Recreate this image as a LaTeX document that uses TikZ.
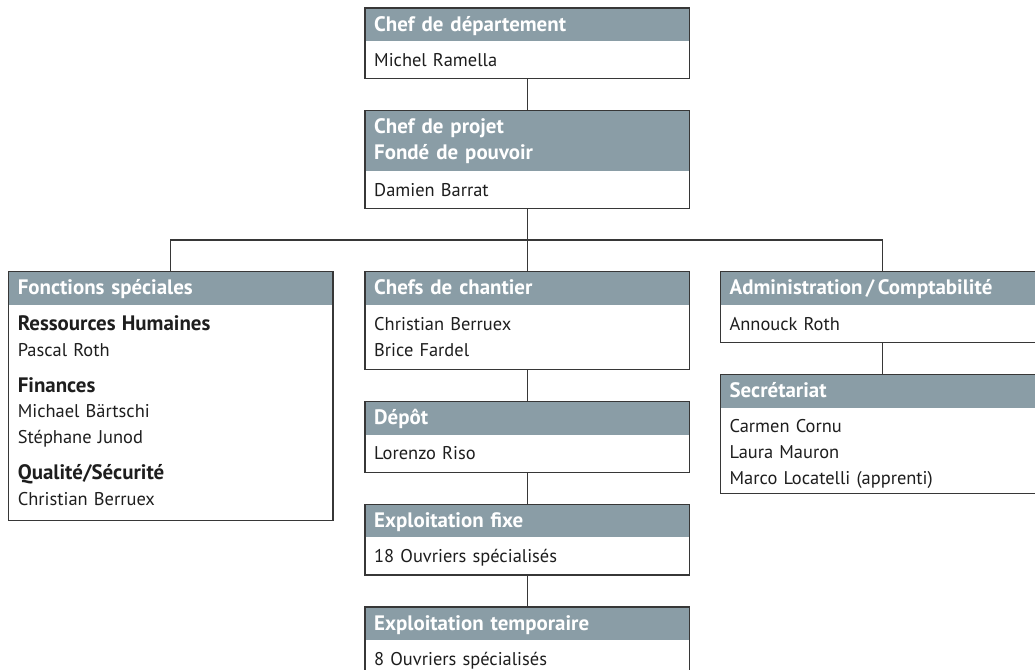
\documentclass[tikz,border=0pt]{standalone}
\usepackage{fontspec}
\setmainfont{PT Sans}
\usetikzlibrary{positioning, calc}
\definecolor{headgray}{RGB}{138,157,166}
\definecolor{linegray}{RGB}{55,55,55}
\definecolor{textdark}{RGB}{30,30,30}
\newcommand{\grp}[1]{{\fontsize{21}{26}\selectfont\bfseries #1}}
\tikzset{
    header/.style={rectangle, fill=headgray, text=white, font=\bfseries\fontsize{21}{26}\selectfont, text width=306bp, inner xsep=9bp, inner ysep=0pt, text height=23bp, text depth=10bp, align=left},
    members/.style={rectangle, fill=white, text=textdark, font=\fontsize{18.5}{26}\selectfont, text width=306bp, inner xsep=9bp, inner ysep=0pt, text height=25bp, text depth=12bp, align=left},
    frame/.style={draw=linegray, line width=1.3bp},
    link/.style={draw=linegray, line width=1.3bp}
}
\begin{document}
\begin{tikzpicture}[x=1bp, y=-1bp]

    \useasboundingbox (0,0) rectangle (1035,670);
    \clip (0,0) rectangle (1035,670);

    % Boxes
    \node (dep) [header, anchor=north west] at (365,8) {Chef de département};
    \node (dep-b) [members, below=0pt of dep] {Michel Ramella};
    \node (proj) [header, below=32bp of dep-b, text depth=37bp] {Chef de projet\\Fondé de pouvoir};
    \node (proj-b) [members, below=0pt of proj] {Damien Barrat};
    \node (chan) [header, below=63bp of proj-b] {Chefs de chantier};
    \node (chan-b) [members, below=0pt of chan, text depth=39bp] {Christian Berruex\\Brice Fardel};
    \node (spec) [header, left=32bp of chan] {Fonctions spéciales};
    \node (spec-b) [members, below=0pt of spec, text depth=190bp] {\grp{Ressources Humaines}\\Pascal Roth\\[10bp]\grp{Finances}\\Michael Bärtschi\\Stéphane Junod\\[10bp]\grp{Qualité/Sécurité}\\Christian Berruex};
    \node (admin) [header, right=31bp of chan] {Administration\,/\,Comptabilité};
    \node (admin-b) [members, below=0pt of admin] {Annouck Roth};
    \node (secr) [header, below=32bp of admin-b] {Secrétariat};
    \node (secr-b) [members, below=0pt of secr, text depth=60bp] {Carmen Cornu\\Laura Mauron\\Marco Locatelli (apprenti)};
    \node (depot) [header, below=32bp of chan-b] {Dépôt};
    \node (depot-b) [members, below=0pt of depot] {Lorenzo Riso};
    \node (fixe) [header, below=32bp of depot-b] {Exploitation fixe};
    \node (fixe-b) [members, below=0pt of fixe] {18 Ouvriers spécialisés};
    \node (temp) [header, below=32bp of fixe-b] {Exploitation temporaire};
    \node (temp-b) [members, below=0pt of temp] {8 Ouvriers spécialisés};

    \foreach \b in {dep, proj, chan, spec, admin, secr, depot, fixe, temp}
        \draw [frame] (\b.north west) rectangle (\b-b.south east);

    \coordinate (bus) at ($(proj-b.south)!0.5!(chan.north)$);

    % Lines
    \draw [link] (dep-b) -- (proj);
    \draw [link] (proj-b) -- (chan);
    \draw [link] (spec) |- (bus) -| (admin);
    \draw [link] (chan-b) -- (depot);
    \draw [link] (depot-b) -- (fixe);
    \draw [link] (fixe-b) -- (temp);
    \draw [link] (admin-b) -- (secr);

\end{tikzpicture}
\end{document}
